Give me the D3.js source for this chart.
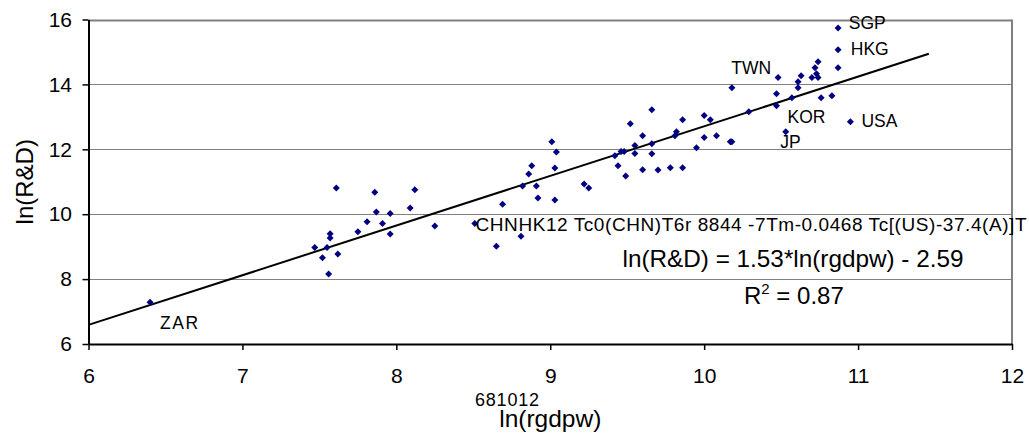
<!DOCTYPE html>
<html>
<head>
<meta charset="utf-8">
<script src="https://cdn.jsdelivr.net/npm/d3@7"></script>
<style>
  body { margin: 0; background: #fff; }
  svg { display: block; font-family: "Liberation Sans", Arial, sans-serif; }
</style>
</head>
<body>
<svg id="chart"></svg>
<script>
// ln(rgdpw) per country
const rgdpw = [
  6.40, 7.47, 7.55, 7.52, 7.57, 7.57, 7.56, 7.62, 7.61, 7.75,
  7.81, 7.86, 7.87, 7.91, 7.96, 7.96, 8.09, 8.12, 8.25, 8.51,
  8.65, 8.69, 8.81, 8.82, 8.86, 8.88, 8.91, 8.92, 9.03, 9.03,
  9.04, 9.01, 9.22, 9.25, 9.42, 9.44, 9.46, 9.48, 9.49, 9.52,
  9.55, 9.55, 9.60, 9.60, 9.66, 9.66, 9.66, 9.70, 9.78, 9.81,
  9.82, 9.86, 9.86, 9.95, 10.00, 10.00, 10.04, 10.08, 10.17, 10.18,
  10.29, 10.47, 10.47, 10.53, 10.57, 10.76, 10.18, 10.48, 10.61, 10.63,
  10.61, 10.70, 10.72, 10.73, 10.74, 10.74, 10.83, 10.87, 10.87, 10.87,
  10.95
];

// ln(R&D) per country
const rd = [
  7.29, 8.97, 8.97, 8.66, 9.40, 9.27, 8.16, 8.77, 10.81, 9.46,
  9.77, 10.68, 10.07, 9.71, 10.02, 9.39, 10.19, 10.75, 9.64, 9.71,
  9.01, 10.31, 9.32, 10.87, 11.24, 11.49, 10.87, 10.50, 11.42, 10.44,
  11.92, 12.23, 10.93, 10.81, 11.80, 11.49, 11.93, 11.93, 11.18, 12.79,
  12.12, 11.87, 12.42, 11.37, 13.22, 12.17, 11.86, 11.36, 11.43, 12.42,
  12.54, 12.91, 11.43, 12.05, 13.04, 12.36, 12.91, 12.42, 12.23, 12.23,
  13.16, 13.71, 13.34, 12.54, 13.59, 13.59, 13.90, 14.21, 14.08, 14.27,
  13.90, 14.21, 14.51, 14.33, 14.21, 14.70, 13.65, 15.74, 15.07, 14.51,
  12.85
];

// country labels and the point each one annotates (index into the arrays)
const labelNames = ['SGP', 'HKG', 'TWN', 'KOR', 'JP', 'USA', 'ZAR'];
const labelPoint = [77, 78, 66, 62, 63, 80, 0];

// leftover text from the original document
const strayText = 'CHNHK12 Tc0(CHN)T6r 8844 -7Tm-0.0468 Tc[(US)-37.4(A)]T';
const strayTicks = '681012';

// fitted trend line
const slope = 1.53;
const intercept = -2.59;
const fitRange = [6, 11.46];
const rSquared = '0.87';

const xTicks = [6, 7, 8, 9, 10, 11, 12];
const yTicks = [6, 8, 10, 12, 14, 16];

const width = 1029;
const height = 435;
const margin = { top: 19.5, right: 17, bottom: 91, left: 88.5 };

const svg = d3.select('#chart')
  .attr('width', width)
  .attr('height', height);

const x = d3.scaleLinear().domain([6, 12]).range([margin.left, width - margin.right]);
const y = d3.scaleLinear().domain([6, 16]).range([height - margin.bottom, margin.top]);

// gridlines
svg.append('g')
  .selectAll('line')
  .data(yTicks.slice(1))
  .join('line')
  .attr('x1', x(6)).attr('x2', x(12))
  .attr('y1', d => Math.round(y(d)) + 0.5)
  .attr('y2', d => Math.round(y(d)) + 0.5)
  .attr('stroke', '#808080')
  .attr('stroke-width', d => d === 16 ? 2 : 1);

// right border
svg.append('line')
  .attr('x1', x(12)).attr('x2', x(12))
  .attr('y1', y(16)).attr('y2', y(6))
  .attr('stroke', '#808080')
  .attr('stroke-width', 2);

// axes
const xAxis = svg.append('g')
  .attr('transform', `translate(0,${y(6)})`)
  .call(d3.axisBottom(x).tickValues(xTicks).tickFormat(d3.format('d')).tickSize(6).tickSizeOuter(0).tickPadding(18));

const yAxis = svg.append('g')
  .attr('transform', `translate(${x(6)},0)`)
  .call(d3.axisLeft(y).tickValues(yTicks).tickFormat(d3.format('d')).tickSize(6).tickSizeOuter(0).tickPadding(10.5));

[xAxis, yAxis].forEach(a => {
  a.select('.domain').attr('stroke', '#000').attr('stroke-width', 2);
  a.selectAll('.tick line').attr('stroke', '#000').attr('stroke-width', 1.5);
  a.selectAll('.tick text')
    .attr('fill', '#000')
    .style('font-size', '21px')
    .style('font-family', '"Liberation Sans", Arial, sans-serif');
});

// trend line
svg.append('line')
  .attr('x1', x(fitRange[0])).attr('y1', y(slope * fitRange[0] + intercept))
  .attr('x2', x(fitRange[1])).attr('y2', y(slope * fitRange[1] + intercept))
  .attr('stroke', '#000')
  .attr('stroke-width', 2);

// points
const r = 3.5;
svg.append('g')
  .selectAll('path')
  .data(rgdpw.map((v, i) => ({ x: v, y: rd[i] })))
  .join('path')
  .attr('d', `M0,${-r}L${r},0L0,${r}L${-r},0Z`)
  .attr('transform', d => `translate(${x(d.x)},${y(d.y)})`)
  .attr('fill', '#000080');

// country labels
const labelOffset = {
  SGP: [10.7, 1], HKG: [12.7, 5.3], TWN: [-0.6, -13.4], KOR: [11, 17.6],
  JP: [-5.6, 16.6], USA: [11, 5], ZAR: [10, 27.3]
};
svg.append('g')
  .selectAll('text')
  .data(labelNames)
  .join('text')
  .attr('x', (d, i) => x(rgdpw[labelPoint[i]]) + labelOffset[d][0])
  .attr('y', (d, i) => y(rd[labelPoint[i]]) + labelOffset[d][1])
  .attr('font-size', 17.5)
  .attr('letter-spacing', d => d === 'ZAR' ? 1.6 : 0)
  .attr('fill', '#000')
  .text(d => d);

// stray text starting at the CHN point
svg.append('text')
  .attr('x', x(rgdpw[19]) + 0.7)
  .attr('y', y(rd[19]) + 7.3)
  .attr('font-size', 19)
  .attr('textLength', 551)
  .attr('lengthAdjust', 'spacing')
  .attr('fill', '#000')
  .text(strayText);

// regression equation
svg.append('text')
  .attr('x', 622.5)
  .attr('y', 266.5)
  .attr('font-size', 24)
  .attr('textLength', 341)
  .attr('lengthAdjust', 'spacingAndGlyphs')
  .attr('fill', '#000')
  .text(`ln(R&D) = ${slope}*ln(rgdpw) - ${Math.abs(intercept)}`);

const r2 = svg.append('text')
  .attr('x', 744)
  .attr('y', 303.5)
  .attr('font-size', 24)
  .attr('fill', '#000');
r2.append('tspan').text('R');
r2.append('tspan').attr('font-size', 15).attr('dy', -10).text('2');
r2.append('tspan').attr('dy', 10).text(` = ${rSquared}`);

// axis titles
svg.append('text')
  .attr('x', 475)
  .attr('y', 406)
  .attr('font-size', 18)
  .attr('textLength', 64)
  .attr('fill', '#000')
  .text(strayTicks);

svg.append('text')
  .attr('x', (x(6) + x(12)) / 2)
  .attr('y', 426.5)
  .attr('text-anchor', 'middle')
  .attr('font-size', 24.5)
  .attr('fill', '#000')
  .text('ln(rgdpw)');

svg.append('text')
  .attr('transform', `translate(33,${(y(6) + y(16)) / 2}) rotate(-90)`)
  .attr('text-anchor', 'middle')
  .attr('font-size', 24)
  .attr('fill', '#000')
  .text('ln(R&D)');
</script>
</body>
</html>
